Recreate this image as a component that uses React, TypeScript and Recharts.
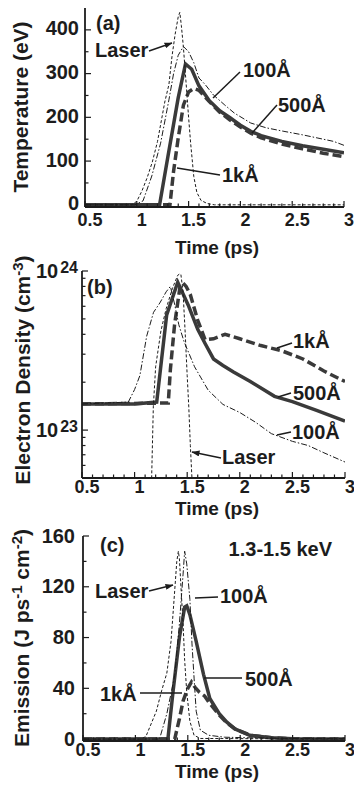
import React from 'react';
import { LineChart, Line, XAxis, YAxis } from 'recharts';

const FONT = "'Liberation Sans', Arial, Helvetica, sans-serif";
const INK = '#1c1c1c';
const THICK = '#3a3a3a';

// time axis (ps)
const timeMajor = [0.5, 1, 1.5, 2, 2.5, 3];
const timeLabels = ['0.5', '1', '1.5', '2', '2.5', '3'];
const timeTicks = Array.from({ length: 26 }, (_, i) => +(0.5 + i * 0.1).toFixed(1));

// (a) temperature, eV
const tempMajor = [0, 100, 200, 300, 400];
const tempTicks = [0, 50, 100, 150, 200, 250, 300, 350, 400];

const laserTimeA = [0.5, 0.95, 1.0, 1.05, 1.1, 1.15, 1.2, 1.27, 1.31, 1.34, 1.37, 1.4, 1.415, 1.43, 1.45, 1.48, 1.5, 1.52, 1.55, 1.58, 1.62, 1.68, 1.75, 3.0];
const laserTempA = [0, 0, 8, 32, 62, 98, 145, 235, 275, 340, 390, 430, 440, 410, 360, 265, 200, 140, 65, 28, 10, 3, 0, 0];

const time100A = [0.5, 0.98, 1.06, 1.145, 1.23, 1.31, 1.355, 1.4, 1.45, 1.5, 1.55, 1.6, 1.66, 1.74, 1.85, 1.94, 2.1, 2.25, 2.42, 2.6, 2.74, 2.9, 3.0];
const temp100A = [0, 0, 9, 66, 141, 240, 300, 342, 362, 350, 325, 290, 275, 251, 228, 210, 187, 176, 168, 160, 153, 145, 136];

const time500A = [0.5, 1.22, 1.3, 1.4, 1.47, 1.53, 1.6, 1.7, 1.8, 1.9, 2.0, 2.1, 2.2, 2.4, 2.6, 2.8, 3.0];
const temp500A = [0, 0, 110, 245, 322, 310, 272, 238, 215, 199, 182, 168, 158, 145, 135, 127, 119];

const time1kA = [0.5, 1.32, 1.355, 1.4, 1.45, 1.5, 1.55, 1.6, 1.7, 1.8, 1.9, 2.0, 2.1, 2.2, 2.4, 2.6, 2.8, 3.0];
const temp1kA = [0, 0, 77, 153, 228, 258, 266, 262, 236, 212, 194, 178, 164, 153, 139, 128, 118, 110];

// (b) electron density, cm^-3
const densMajor = [1e23, 1e24];
const densExp = ['23', '24'];
const densTicks = [6e22, 7e22, 8e22, 9e22, 1e23, 2e23, 3e23, 4e23, 5e23, 6e23, 7e23, 8e23, 9e23, 1e24];

const laserTimeB = [1.15, 1.162, 1.178, 1.2, 1.25, 1.3, 1.36, 1.41, 1.43, 1.44, 1.46, 1.48, 1.5, 1.515, 1.53, 1.545, 1.56];
const laserDensB = [3e22, 5e22, 1.4e23, 2.5e23, 4.2e23, 5.8e23, 7.8e23, 9.4e23, 9.6e23, 9.5e23, 7.5e23, 4.2e23, 2.2e23, 1.4e23, 8e22, 5e22, 3e22];

const time100B = [0.5, 0.94, 1.0, 1.05, 1.115, 1.18, 1.24, 1.3, 1.34, 1.38, 1.42, 1.47, 1.57, 1.7, 1.84, 2.0, 2.15, 2.3, 2.5, 2.65, 2.8, 3.0];
const dens100B = [1.46e23, 1.5e23, 1.8e23, 2.2e23, 3.9e23, 5.5e23, 6.3e23, 7.4e23, 8.0e23, 6.2e23, 4.6e23, 3.6e23, 2.5e23, 1.78e23, 1.45e23, 1.29e23, 1.12e23, 9.5e22, 8.5e22, 8.0e22, 7.2e22, 6.3e22];

const time500B = [0.5, 1.0, 1.21, 1.305, 1.41, 1.51, 1.6, 1.67, 1.75, 1.84, 1.94, 2.1, 2.33, 2.5, 2.73, 3.0];
const dens500B = [1.46e23, 1.46e23, 1.5e23, 5.3e23, 8.5e23, 6.1e23, 4.3e23, 3.5e23, 2.8e23, 2.55e23, 2.32e23, 2.02e23, 1.63e23, 1.51e23, 1.33e23, 1.14e23];

const time1kB = [0.5, 1.32, 1.34, 1.38, 1.43, 1.46, 1.49, 1.53, 1.6, 1.67, 1.75, 1.86, 2.0, 2.2, 2.4, 2.6, 2.8, 3.0];
const dens1kB = [1.46e23, 1.48e23, 2.4e23, 4.6e23, 7.8e23, 8.4e23, 8.0e23, 7.1e23, 4.9e23, 3.7e23, 3.75e23, 4.0e23, 3.75e23, 3.4e23, 3.15e23, 2.8e23, 2.35e23, 2.02e23];

// (c) emission, J ps^-1 cm^-2
const emisMajor = [0, 40, 80, 120, 160];
const emisTicks = [0, 20, 40, 60, 80, 100, 120, 140, 160];

const laserTimeC = [0.5, 1.05, 1.1, 1.2, 1.25, 1.3, 1.34, 1.375, 1.395, 1.41, 1.42, 1.44, 1.455, 1.47, 1.49, 1.52, 1.56, 1.62, 3.0];
const laserEmisC = [0, 0, 2, 22, 38, 52, 77, 117, 140, 148, 142, 112, 91, 62, 37, 14, 3, 0.5, 0];

const time100C = [0.5, 1.23, 1.3, 1.375, 1.42, 1.455, 1.47, 1.49, 1.52, 1.54, 1.56, 1.58, 1.62, 1.7, 1.85, 2.1, 2.5, 3.0];
const emis100C = [0, 0, 20, 50, 91, 130, 148, 138, 110, 75, 48, 22, 7, 3, 1.5, 1, 0.5, 0.3];

const time500C = [0.5, 1.31, 1.36, 1.42, 1.47, 1.49, 1.52, 1.58, 1.65, 1.71, 1.8, 1.87, 1.95, 2.09, 2.3, 2.5, 3.0];
const emis500C = [0, 0, 38, 80, 104, 105, 98, 77, 51, 32, 20, 13.5, 8, 3, 1, 0.3, 0];

const time1kC = [0.5, 1.375, 1.42, 1.455, 1.5, 1.535, 1.567, 1.61, 1.66, 1.71, 1.8, 1.87, 1.95, 2.1, 2.3, 2.5, 3.0];
const emis1kC = [0, 0, 16, 30, 40, 45, 41, 37, 34, 28, 19, 13, 8, 3, 1, 0.3, 0];

const zip = (t: number[], v: number[]) => t.map((x, i) => ({ t: x, v: v[i] }));
const near = (list: number[], v: number) => list.findIndex((m) => Math.abs(m - v) <= Math.abs(m) * 1e-6 + 1e-9);

const lineStyles: Record<string, any> = {
  laser: { stroke: INK, strokeWidth: 1, strokeDasharray: '3 2' },
  a100: { stroke: INK, strokeWidth: 1, strokeDasharray: '6 2 1.5 2' },
  a500: { stroke: THICK, strokeWidth: 3.5 },
  k1: { stroke: THICK, strokeWidth: 3.5, strokeDasharray: '9 4' },
};

const textProps = { fontFamily: FONT, fontWeight: 'bold' as const, fill: INK };

interface PanelProps {
  top: number;
  height: number;
  marginTop: number;
  marginRight: number;
  yWidth: number;
  xHeight: number;
  xGap: number;
  yDomain: [number, number];
  yScale?: 'log' | 'linear';
  yTicks: number[];
  yMajor: number[];
  yLabel: (v: number, x: number, y: number) => React.ReactNode;
  series: { key: string; t: number[]; v: number[] }[];
}

function Panel(p: PanelProps) {
  const bottomTick = (t: any) => {
    const i = near(timeMajor, t.payload.value);
    return (
      <g>
        <line x1={t.x} x2={t.x} y1={t.y} y2={t.y - (i >= 0 ? 6 : 3.5)} stroke={INK} strokeWidth={1.2} />
        {i >= 0 && (
          <text x={t.x + 5} y={t.y + p.xGap} textAnchor="middle" fontSize={18} {...textProps}>
            {timeLabels[i]}
          </text>
        )}
      </g>
    );
  };
  const topTick = (t: any) => {
    const i = near(timeMajor, t.payload.value);
    return <line x1={t.x} x2={t.x} y1={t.y} y2={t.y + (i >= 0 ? 6 : 3.5)} stroke={INK} strokeWidth={1.2} />;
  };
  const leftTick = (t: any) => {
    const v = t.payload.value;
    const i = near(p.yMajor, v);
    return (
      <g>
        <line x1={t.x} x2={t.x + (i >= 0 ? 6 : 3.5)} y1={t.y} y2={t.y} stroke={INK} strokeWidth={1.2} />
        {i >= 0 && p.yLabel(v, t.x, t.y)}
      </g>
    );
  };
  const rightTick = (t: any) => {
    const i = near(p.yMajor, t.payload.value);
    return <line x1={t.x} x2={t.x - (i >= 0 ? 6 : 3.5)} y1={t.y} y2={t.y} stroke={INK} strokeWidth={1.2} />;
  };
  const frame = { stroke: INK, strokeWidth: 1.8 };
  const yCommon = {
    type: 'number' as const,
    domain: p.yDomain,
    scale: p.yScale || 'linear',
    ticks: p.yTicks,
    interval: 0 as const,
    allowDataOverflow: true,
    tickSize: 0,
    tickMargin: 0,
    tickLine: false,
    axisLine: frame,
  };
  const xCommon = {
    type: 'number' as const,
    dataKey: 't',
    domain: [0.5, 3] as [number, number],
    ticks: timeTicks,
    interval: 0 as const,
    allowDataOverflow: true,
    tickSize: 0,
    tickMargin: 0,
    tickLine: false,
    axisLine: frame,
  };
  return (
    <div style={{ position: 'absolute', left: 0, top: p.top }}>
      <LineChart width={354} height={p.height} margin={{ top: p.marginTop, right: p.marginRight, bottom: 0, left: 0 }}>
        <XAxis xAxisId={0} {...xCommon} height={p.xHeight} tick={bottomTick} />
        <XAxis xAxisId="top" orientation="top" {...xCommon} height={0} tick={topTick} />
        <YAxis yAxisId={0} {...yCommon} width={p.yWidth} tick={leftTick} />
        <YAxis yAxisId="right" orientation="right" {...yCommon} width={0} tick={rightTick} />
        {p.series.map((s) => (
          <Line
            key={s.key}
            data={zip(s.t, s.v)}
            dataKey="v"
            xAxisId={0}
            yAxisId={0}
            type="linear"
            dot={false}
            activeDot={false}
            isAnimationActive={false}
            {...lineStyles[s.key]}
          />
        ))}
      </LineChart>
    </div>
  );
}

const linearLabel = (dx: number, dy: number) => (v: number, x: number, y: number) => (
  <text x={x - dx} y={y + dy} textAnchor="end" fontSize={20} {...textProps}>
    {String(v)}
  </text>
);

const logLabel = (v: number, x: number, y: number) => (
  <text x={x - 4} y={y + 7} textAnchor="end" fontSize={20} {...textProps}>
    10
    <tspan dx={2} dy={-5} fontSize={16}>
      {densExp[near(densMajor, v)]}
    </tspan>
  </text>
);

function Note({ x, y, children }: { x: number; y: number; children: React.ReactNode }) {
  return (
    <text x={x} y={y} fontSize={20} {...textProps}>
      {children}
    </text>
  );
}

function Pointer({ x1, y1, x2, y2, arrow }: { x1: number; y1: number; x2: number; y2: number; arrow?: boolean }) {
  return <line x1={x1} y1={y1} x2={x2} y2={y2} stroke={INK} strokeWidth={1.5} markerEnd={arrow ? 'url(#tip)' : undefined} />;
}

function YTitle({ x, y, children }: { x: number; y: number; children: React.ReactNode }) {
  return (
    <text x={x} y={y} transform={`rotate(-90 ${x} ${y})`} textAnchor="middle" fontSize={21} {...textProps}>
      {children}
    </text>
  );
}

function XTitle({ y }: { y: number }) {
  return (
    <text x={217} y={y} textAnchor="middle" fontSize={19} {...textProps}>
      Time (ps)
    </text>
  );
}

export default function App() {
  return (
    <div style={{ position: 'absolute', left: 0, top: 0, width: 354, height: 791, background: '#fff' }}>
      <Panel
        top={0}
        height={250}
        marginTop={8}
        marginRight={10}
        yWidth={85}
        xHeight={43}
        xGap={19}
        yDomain={[-5, 450]}
        yTicks={tempTicks}
        yMajor={tempMajor}
        yLabel={linearLabel(6, 5.5)}
        series={[
          { key: 'k1', t: time1kA, v: temp1kA },
          { key: 'a500', t: time500A, v: temp500A },
          { key: 'a100', t: time100A, v: temp100A },
          { key: 'laser', t: laserTimeA, v: laserTempA },
        ]}
      />
      <Panel
        top={250}
        height={270}
        marginTop={21}
        marginRight={9}
        yWidth={82}
        xHeight={42}
        xGap={15}
        yDomain={[5e22, 1e24]}
        yScale="log"
        yTicks={densTicks}
        yMajor={densMajor}
        yLabel={logLabel}
        series={[
          { key: 'k1', t: time1kB, v: dens1kB },
          { key: 'a500', t: time500B, v: dens500B },
          { key: 'a100', t: time100B, v: dens100B },
          { key: 'laser', t: laserTimeB, v: laserDensB },
        ]}
      />
      <Panel
        top={520}
        height={271}
        marginTop={16}
        marginRight={9}
        yWidth={83}
        xHeight={50}
        xGap={15}
        yDomain={[-1.5, 160]}
        yTicks={emisTicks}
        yMajor={emisMajor}
        yLabel={linearLabel(8, 6.5)}
        series={[
          { key: 'k1', t: time1kC, v: emis1kC },
          { key: 'a500', t: time500C, v: emis500C },
          { key: 'a100', t: time100C, v: emis100C },
          { key: 'laser', t: laserTimeC, v: laserEmisC },
        ]}
      />
      <svg width={354} height={791} style={{ position: 'absolute', left: 0, top: 0, pointerEvents: 'none' }}>
        <defs>
          <marker id="tip" markerUnits="userSpaceOnUse" markerWidth={8} markerHeight={6} refX={7.5} refY={3} orient="auto">
            <path d="M0,0 L8,3 L0,6 z" fill={INK} />
          </marker>
        </defs>

        <YTitle x={28} y={107}>Temperature (eV)</YTitle>
        <YTitle x={30} y={370}>
          Electron Density (cm<tspan dy={-7} fontSize={15}>-3</tspan>
          <tspan dy={7}>)</tspan>
        </YTitle>
        <YTitle x={29} y={638}>
          Emission (J ps<tspan dy={-7} fontSize={15}>-1</tspan>
          <tspan dy={7}> cm</tspan>
          <tspan dy={-7} fontSize={15}>-2</tspan>
          <tspan dy={7}>)</tspan>
        </YTitle>
        <XTitle y={254} />
        <XTitle y={515} />
        <XTitle y={778} />

        <text x={96} y={30} fontSize={20} {...textProps}>(a)</text>
        <text x={87} y={294} fontSize={20} {...textProps}>(b)</text>
        <text x={100} y={552} fontSize={20} {...textProps}>(c)</text>
        <text x={332} y={556} textAnchor="end" fontSize={20} {...textProps}>1.3-1.5 keV</text>

        <Note x={95} y={57}>Laser</Note>
        <Pointer x1={149} y1={51} x2={172} y2={43} arrow />
        <Note x={243} y={77}>100Å</Note>
        <Pointer x1={240} y1={72} x2={213} y2={98} />
        <Note x={278} y={112}>500Å</Note>
        <Pointer x1={277} y1={105} x2={252} y2={133} />
        <Note x={222} y={182}>1kÅ</Note>
        <Pointer x1={220} y1={175} x2={177} y2={168} />

        <Note x={293} y={348}>1kÅ</Note>
        <Pointer x1={292} y1={343} x2={277} y2={348} />
        <Note x={293} y={400}>500Å</Note>
        <Pointer x1={291} y1={393} x2={278} y2={397} />
        <Note x={292} y={439}>100Å</Note>
        <Pointer x1={291} y1={432} x2={277} y2={435} />
        <Note x={222} y={464}>Laser</Note>
        <Pointer x1={221} y1={458} x2={192} y2={452} arrow />

        <Note x={95} y={598}>Laser</Note>
        <Pointer x1={149} y1={591} x2={173} y2={585} arrow />
        <Note x={220} y={603}>100Å</Note>
        <Pointer x1={218} y1={597} x2={195} y2={598} />
        <Note x={245} y={686}>500Å</Note>
        <Pointer x1={242} y1={678} x2={204} y2={678} />
        <Note x={100} y={701}>1kÅ</Note>
        <Pointer x1={140} y1={693} x2={182} y2={693} />
      </svg>
    </div>
  );
}
